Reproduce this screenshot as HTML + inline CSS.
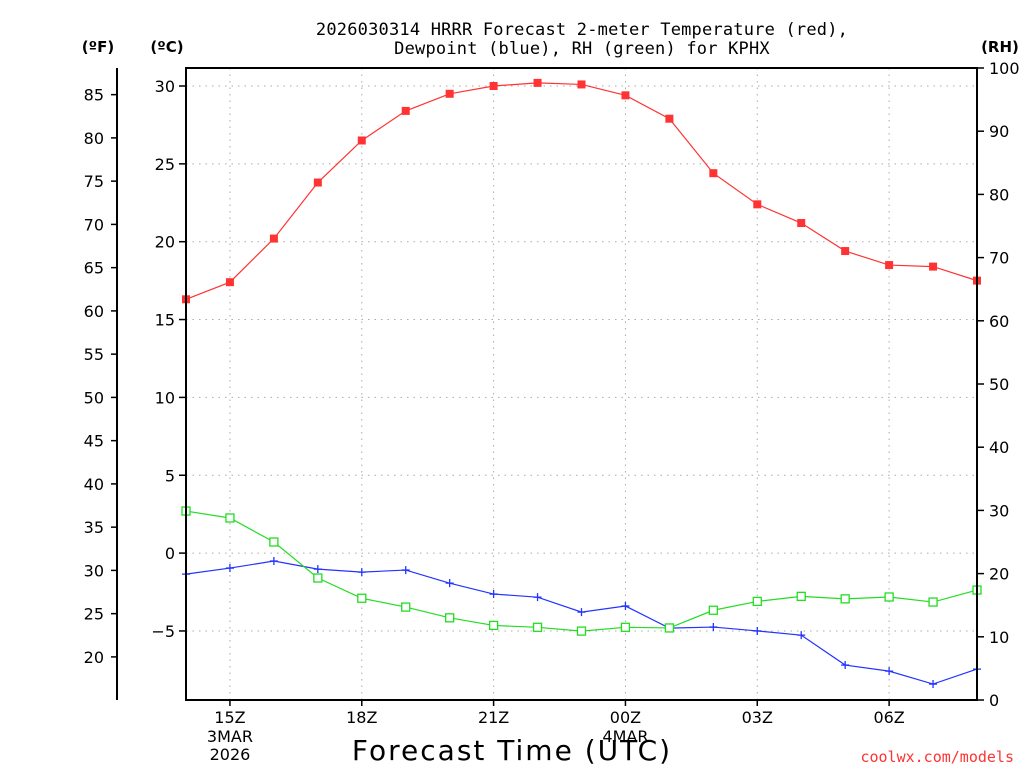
<!DOCTYPE html>
<html><head><meta charset="utf-8"><style>
body{margin:0;background:#fff;}
svg{display:block;font-family:"DejaVu Sans","Liberation Sans",sans-serif;}
</style></head><body>
<svg id="chart" width="1024" height="768" viewBox="0 0 1024 768" xmlns="http://www.w3.org/2000/svg">
<text x="582" y="35" text-anchor="middle" font-size="17" letter-spacing="0.2" font-family="DejaVu Sans Mono, Liberation Mono, monospace">2026030314 HRRR Forecast 2-meter Temperature (red),</text>
<text x="582" y="54" text-anchor="middle" font-size="17" letter-spacing="0.2" font-family="DejaVu Sans Mono, Liberation Mono, monospace">Dewpoint (blue), RH (green) for KPHX</text>
<text x="98" y="52" text-anchor="middle" font-size="15" font-weight="bold">(ºF)</text>
<text x="167" y="52" text-anchor="middle" font-size="15" font-weight="bold">(ºC)</text>
<text x="1000" y="52" text-anchor="middle" font-size="15" font-weight="bold">(RH)</text>
<text x="512" y="760" text-anchor="middle" font-size="28" letter-spacing="2">Forecast Time (UTC)</text>
<text x="1014" y="762" text-anchor="end" font-size="15" fill="#ff3333" font-family="DejaVu Sans Mono, Liberation Mono, monospace">coolwx.com/models</text>
<g id="grid"></g><g id="axes"></g><g id="series"></g>
<rect x="186" y="68" width="791" height="632" fill="none" stroke="#000" stroke-width="2"/>
</svg>
<script>
const hours = [14,15,16,17,18,19,20,21,22,23,24,25,26,27,28,29,30,31,32];
const tempC = [16.3,17.4,20.2,23.8,26.5,28.4,29.5,30.0,30.2,30.1,29.4,27.9,24.4,22.4,21.2,19.4,18.5,18.4,17.5];
const dewC = [-1.35,-0.96,-0.51,-1.03,-1.22,-1.09,-1.93,-2.63,-2.83,-3.79,-3.4,-4.82,-4.75,-5.0,-5.27,-7.19,-7.58,-8.41,-7.45];
const rh = [29.9,28.8,25.0,19.3,16.1,14.7,13.0,11.8,11.5,10.9,11.5,11.4,14.2,15.6,16.4,16.0,16.3,15.5,17.4];
const cTicks = [30,25,20,15,10,5,0,-5];
const fTicks = [85,80,75,70,65,60,55,50,45,40,35,30,25,20];
const rhTicks = [0,10,20,30,40,50,60,70,80,90,100];
const xTickHours = [15,18,21,24,27,30];
const xTickLabels = ["15Z","18Z","21Z","00Z","03Z","06Z"];

const NS="http://www.w3.org/2000/svg";
const X0=186,X1=977,Y0=68,Y1=700;
const xS=h=>X0+(h-14)*(X1-X0)/18;
const cS=c=>86+(30-c)*15.57;
const fS=f=>cS((f-32)*5/9);
const rS=r=>Y1-r*(Y1-Y0)/100;
function mk(tag,attrs,parent,text){const e=document.createElementNS(NS,tag);for(const k in attrs)e.setAttribute(k,attrs[k]);if(text!==undefined)e.textContent=text;parent.appendChild(e);return e;}
const grid=document.getElementById('grid'),axes=document.getElementById('axes'),ser=document.getElementById('series');
const g='#aaa';
cTicks.forEach(c=>{const y=cS(c);
 const l=mk('line',{x1:X0,x2:X1,y1:y,y2:y,stroke:g,'stroke-dasharray':'1.5 5'},grid);
 
 
 mk('line',{x1:X0-7,x2:X0,y1:y,y2:y,stroke:'#000','stroke-width':1.5},axes);
 const t=mk('text',{x:X0-11,y:y+6,'text-anchor':'end','font-size':16},axes,c<0?'\u2212'+(-c):String(c));
 
 
});
mk('line',{x1:117,x2:117,y1:Y0,y2:Y1,stroke:'#000','stroke-width':2},axes);
fTicks.forEach(f=>{const y=fS(f);
 mk('line',{x1:111,x2:117,y1:y,y2:y,stroke:'#000','stroke-width':1.5},axes);
 const t=mk('text',{x:104,y:y+6,'text-anchor':'end','font-size':16},axes,String(f));
 
 
});
rhTicks.forEach(r=>{const y=rS(r);
 mk('line',{x1:X1,x2:X1+7,y1:y,y2:y,stroke:'#000','stroke-width':1.5},axes);
 const t=mk('text',{x:X1+12,y:y+6,'text-anchor':'start','font-size':16},axes,String(r));
 
 
});
xTickHours.forEach((h,i)=>{const x=xS(h);
 const l=mk('line',{x1:x,x2:x,y1:Y0,y2:Y1,stroke:g,'stroke-dasharray':'1.5 5'},grid);
 
 
 mk('line',{x1:x,x2:x,y1:Y1,y2:Y1+6,stroke:'#000','stroke-width':1.5},axes);
 const t=mk('text',{x:x,y:723,'text-anchor':'middle','font-size':16},axes,xTickLabels[i]);
 
 
});
[[xS(15),'3MAR','2026'],[xS(24),'4MAR','']].forEach(([x,a,b])=>{
 mk('text',{x:x,y:742,'text-anchor':'middle','font-size':16},axes,a);
 if(b)mk('text',{x:x,y:760,'text-anchor':'middle','font-size':16},axes,b);
});
function line(vals,sc,color,name){
 const p=mk('polyline',{points:vals.map((v,i)=>xS(hours[i])+','+sc(v)).join(' '),fill:'none',stroke:color,'stroke-width':1.2},ser);
 
 
}
line(tempC,cS,'#ff3333','temperature');
line(dewC,cS,'#2233ff','dewpoint');
line(rh,rS,'#22dd22','rh');
tempC.forEach((v,i)=>{const r=mk('rect',{x:xS(hours[i])-4,y:cS(v)-4,width:8,height:8,fill:'#ff3333'},ser);
 
 });
dewC.forEach((v,i)=>{const x=xS(hours[i]),y=cS(v);
 const p=mk('path',{d:`M${x-4},${y}H${x+4}M${x},${y-4}V${y+4}`,stroke:'#2233ff','stroke-width':1.3},ser);
 
 });
rh.forEach((v,i)=>{const r=mk('rect',{x:xS(hours[i])-4,y:rS(v)-4,width:8,height:8,fill:'#fff',stroke:'#22dd22','stroke-width':1.3},ser);
 
 });
</script>
</body></html>
